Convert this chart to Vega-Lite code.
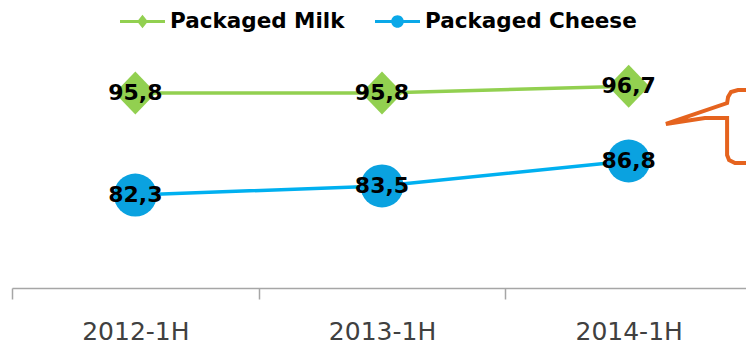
{
  "$schema": "https://vega.github.io/schema/vega-lite/v6.json",
  "width": 734,
  "height": 288,
  "autosize": {"type": "none"},
  "padding": {"left": 12, "top": 0, "right": 0, "bottom": 56},
  "background": "white",
  "config": {
    "view": {"stroke": null},
    "locale": {"number": {"decimal": ",", "thousands": ".", "grouping": [3], "currency": ["", " €"]}}
  },
  "datasets": {
    "main": [
      {"period": "2012-1H", "series": "Packaged Milk", "value": 95.8},
      {"period": "2013-1H", "series": "Packaged Milk", "value": 95.8},
      {"period": "2014-1H", "series": "Packaged Milk", "value": 96.7},
      {"period": "2012-1H", "series": "Packaged Cheese", "value": 82.3},
      {"period": "2013-1H", "series": "Packaged Cheese", "value": 83.5},
      {"period": "2014-1H", "series": "Packaged Cheese", "value": 86.8}
    ],
    "callout": [
      {"i": 1, "cx": 3.0, "cy": 96.19},
      {"i": 2, "cx": 2.943, "cy": 96.19},
      {"i": 3, "cx": 2.915, "cy": 95.93},
      {"i": 4, "cx": 2.903, "cy": 95.27},
      {"i": 5, "cx": 2.899, "cy": 94.47},
      {"i": 6, "cx": 2.651, "cy": 91.70},
      {"i": 7, "cx": 2.809, "cy": 92.49},
      {"i": 8, "cx": 2.899, "cy": 92.49},
      {"i": 9, "cx": 2.899, "cy": 87.59},
      {"i": 10, "cx": 2.907, "cy": 86.93},
      {"i": 11, "cx": 2.931, "cy": 86.54},
      {"i": 12, "cx": 3.0, "cy": 86.54}
    ]
  },
  "layer": [
    {
      "data": {"name": "main"},
      "layer": [
        {
          "mark": {"type": "line", "strokeWidth": 3.5},
          "encoding": {
            "x": {
              "field": "period", "type": "nominal", "bandPosition": 0.5, "sort": null,
              "scale": {"type": "band", "paddingInner": 0, "paddingOuter": 0, "range": [0, 740]},
              "axis": {
                "title": null, "labelAngle": 0, "tickBand": "extent",
                "domainColor": "#a6a6a6", "domainWidth": 1.5,
                "tickColor": "#a6a6a6", "tickWidth": 1.5, "tickSize": 11,
                "labelFont": "DejaVu Sans", "labelFontSize": 25, "labelColor": "#404040",
                "labelPadding": 20, "grid": false
              }
            },
            "y": {
              "field": "value", "type": "quantitative",
              "scale": {"domain": [70, 108.1], "nice": false, "zero": false},
              "axis": null
            },
            "color": {
              "field": "series", "type": "nominal",
              "scale": {"domain": ["Packaged Milk", "Packaged Cheese"], "range": ["#92D050", "#00B0F0"]},
              "legend": {
                "title": null, "orient": "none", "direction": "horizontal",
                "legendX": 108, "legendY": -1, "padding": 0,
                "symbolSize": 2025, "symbolStrokeWidth": 0, "labelLimit": 400,
                "labelFont": "DejaVu Sans", "labelFontWeight": "bold", "labelFontSize": 21.5,
                "labelColor": "#000000", "labelOffset": 5, "columnPadding": 30,
                "encode": {
                  "symbols": {
                    "update": {
                      "shape": {"signal": "datum.value === 'Packaged Milk' ? 'M-1,-0.065L1,-0.065L1,0.065L-1,0.065Z M-0.24,0L0,-0.3L0.24,0L0,0.3Z' : 'M-1,-0.065L1,-0.065L1,0.065L-1,0.065Z M-0.28,0A0.28,0.28 0 1,1 0.28,0A0.28,0.28 0 1,1 -0.28,0Z'"},
                      "fill": {"signal": "datum.value === 'Packaged Milk' ? '#92D050' : '#0AA8E8'"},
                      "stroke": {"value": "transparent"},
                      "strokeWidth": {"value": 0},
                      "size": {"value": 2025},
                      "opacity": {"value": 1}
                    }
                  }
                }
              }
            }
          }
        },
        {
          "transform": [{"filter": {"field": "series", "equal": "Packaged Milk"}}],
          "mark": {"type": "point", "filled": true, "opacity": 1, "size": 1849, "shape": "M-0.96,0L0,-1L0.96,0L0,1Z", "color": "#92D050"},
          "encoding": {
            "x": {"field": "period", "type": "nominal", "bandPosition": 0.5, "sort": null},
            "y": {"field": "value", "type": "quantitative"}
          }
        },
        {
          "transform": [{"filter": {"field": "series", "equal": "Packaged Cheese"}}],
          "mark": {"type": "point", "filled": true, "opacity": 1, "size": 1849, "shape": "circle", "color": "#0AA2E0"},
          "encoding": {
            "x": {"field": "period", "type": "nominal", "bandPosition": 0.5, "sort": null},
            "y": {"field": "value", "type": "quantitative"}
          }
        },
        {
          "mark": {"type": "text", "font": "DejaVu Sans", "fontWeight": "bold", "fontSize": 22, "color": "#000000", "align": "center", "baseline": "middle"},
          "encoding": {
            "x": {"field": "period", "type": "nominal", "bandPosition": 0.5, "sort": null},
            "y": {"field": "value", "type": "quantitative"},
            "text": {"field": "value", "type": "quantitative", "format": ".1f"}
          }
        }
      ]
    },
    {
      "data": {"name": "callout"},
      "mark": {"type": "line", "color": "#E5631E", "strokeWidth": 4, "strokeJoin": "miter", "clip": false},
      "encoding": {
        "x": {"field": "cx", "type": "quantitative", "scale": {"domain": [0, 3], "nice": false, "zero": false, "range": [0, 740]}, "axis": null},
        "y": {"field": "cy", "type": "quantitative", "scale": {"domain": [70, 108.1], "nice": false, "zero": false}},
        "order": {"field": "i", "type": "quantitative"}
      }
    }
  ],
  "resolve": {"scale": {"x": "independent"}}
}
